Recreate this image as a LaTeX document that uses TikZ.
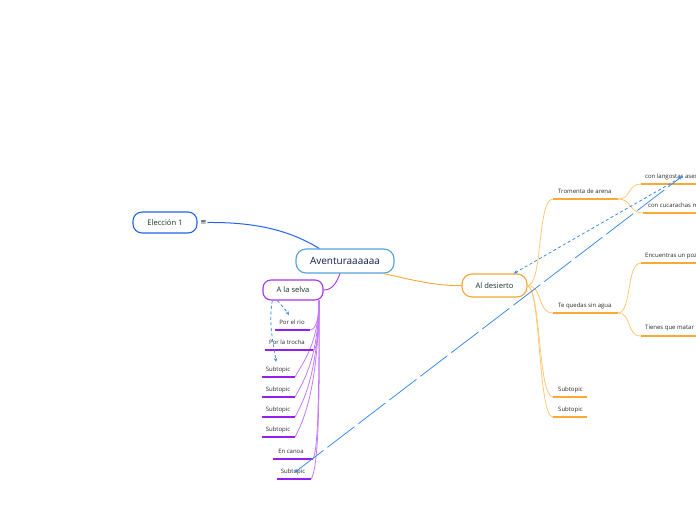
\documentclass[tikz,border=0pt]{standalone}
\usepackage{fontspec}
\setmainfont{Open Sans}
\newfontfamily\symfont{DejaVu Sans}
\usetikzlibrary{arrows.meta}
\definecolor{topictext}{RGB}{20,50,40}
\definecolor{roottext}{RGB}{15,30,70}
\definecolor{subtext}{RGB}{40,40,40}
\definecolor{rootborder}{RGB}{85,160,220}
\definecolor{eleblue}{RGB}{35,100,235}
\definecolor{purpleB}{RGB}{170,50,230}
\definecolor{purpleU}{RGB}{150,30,240}
\definecolor{purpleC}{RGB}{195,120,250}
\definecolor{orangeB}{RGB}{245,165,50}
\definecolor{orangeU}{RGB}{250,170,50}
\definecolor{orangeC}{RGB}{252,200,120}
\definecolor{relblue}{RGB}{60,140,230}
\begin{document}
\begin{tikzpicture}[x=1pt,y=-1pt,
  topic/.style={draw, line width=1.1pt, fill=white, inner sep=0pt, text=topictext,
    font=\fontsize{7.6}{9}\selectfont},
  subnode/.style={inner sep=0pt, anchor=base, text=subtext, font=\fontsize{6}{7}\selectfont},
  subleft/.style={subnode, anchor=base west},
  pline/.style={line width=1.6pt, purpleU},
  oline/.style={line width=1.6pt, orangeU},
  pconn/.style={line width=0.8pt, purpleC},
  oconn/.style={line width=0.8pt, orangeC},
  reldash/.style={line width=0.8pt, relblue, dash pattern=on 3pt off 2.5pt},
  rellong/.style={line width=0.8pt, relblue, dash pattern=on 34pt off 5pt},
  tip/.style={-{Stealth[length=4pt,width=3.5pt]}}
]
\useasboundingbox (0,0) rectangle (696,520);
\clip (0,0) rectangle (696,520);

% ---------- main nodes ----------
\node[topic, draw=rootborder, text=roottext, rounded corners=10pt, minimum width=98pt, minimum height=24pt,
  font=\fontsize{10}{12}\selectfont] (av) at (345,261) {Aventuraaaaaa};
\node[topic, draw=eleblue, rounded corners=9pt, minimum width=64pt, minimum height=21pt] (ele) at (165,222.5) {Elección 1};
\node[inner sep=0.5pt, text=topictext, font=\symfont\fontsize{7.5}{8}\selectfont] (icon) at (203.5,222.5) {≡};
\node[topic, draw=purpleB, rounded corners=8pt, minimum width=60pt, minimum height=20pt] (selva) at (293,290) {A la selva};
\node[topic, draw=orangeB, rounded corners=10pt, minimum width=65pt, minimum height=23pt] (des) at (494.5,285.5) {Al desierto};

% ---------- main connectors ----------
\draw[eleblue, line width=1pt] (icon.east) .. controls (260,222) and (292,232) .. (av.154);
\draw[purpleB, line width=0.9pt] (av.-112) .. controls (336,285) and (331,290) .. (selva.east);
\draw[orangeB, line width=0.9pt] (av.-18.4) .. controls (420,282) and (440,286) .. (des.west);

% ---------- A la selva children ----------
\coordinate (p1l) at (275,330); \coordinate (p1r) at (310,330);
\coordinate (p2l) at (265,350); \coordinate (p2r) at (313,350);
\coordinate (p3l) at (262,377); \coordinate (p3r) at (295,377);
\coordinate (p4l) at (262,397); \coordinate (p4r) at (295,397);
\coordinate (p5l) at (262,417); \coordinate (p5r) at (295,417);
\coordinate (p6l) at (262,437); \coordinate (p6r) at (295,437);
\coordinate (p7l) at (273,459); \coordinate (p7r) at (313,459);
\coordinate (p8l) at (277,479); \coordinate (p8r) at (311,479);

\draw[pconn] (selva.-22) .. controls (319,318) and (316,330) .. (p1r);
\draw[pconn] (selva.-22) .. controls (319,330) and (318,350) .. (p2r);
\draw[pconn] (selva.-22) .. controls (318,345) and (303,362) .. (p3r);
\draw[pconn] (selva.-22) .. controls (318,360) and (303,382) .. (p4r);
\draw[pconn] (selva.-22) .. controls (318,375) and (303,402) .. (p5r);
\draw[pconn] (selva.-22) .. controls (318,390) and (303,422) .. (p6r);
\draw[pconn] (selva.-22) .. controls (319,400) and (318,450) .. (p7r);
\draw[pconn] (selva.-22) .. controls (320,410) and (318,470) .. (p8r);

\foreach \i in {1,...,8} {\draw[pline] (p\i l) -- (p\i r);}

\node[subnode] (t1) at (292,324.5) {Por el rio};
\node[subnode] (t2) at (287,344.5) {Por la trocha};
\node[subnode] (t3) at (278,371.5) {Subtopic};
\node[subnode] (t4) at (278,391.5) {Subtopic};
\node[subnode] (t5) at (278,411.5) {Subtopic};
\node[subnode] (t6) at (278,431.5) {Subtopic};
\node[subnode] (t7) at (291,453.5) {En canoa};
\node[subnode] (t8) at (293,473.5) {Subtopic};

% ---------- Al desierto children ----------
\coordinate (d1l) at (553,199); \coordinate (d1r) at (618,199);
\coordinate (d2l) at (553,313); \coordinate (d2r) at (618,313);
\coordinate (d3l) at (553,397); \coordinate (d3r) at (587,397);
\coordinate (d4l) at (553,417); \coordinate (d4r) at (587,417);
\coordinate (e1l) at (641,184); \coordinate (e1r) at (700,184);
\coordinate (e2l) at (643,213); \coordinate (e2r) at (700,213);
\coordinate (e3l) at (641,263); \coordinate (e3r) at (700,263);
\coordinate (e4l) at (641,336); \coordinate (e4r) at (700,336);

\draw[oconn] (des.east) .. controls (543,285) and (537,199) .. (d1l);
\draw[oconn] (des.east) .. controls (543,286) and (537,313) .. (d2l);
\draw[oconn] (des.east) .. controls (541,290) and (538,397) .. (d3l);
\draw[oconn] (des.east) .. controls (541,290) and (538,417) .. (d4l);
\draw[oconn] (d1r) .. controls (632,199) and (627,184) .. (e1l);
\draw[oconn] (d1r) .. controls (632,199) and (629,213) .. (e2l);
\draw[oconn] (d2r) .. controls (632,313) and (626,263) .. (e3l);
\draw[oconn] (d2r) .. controls (632,313) and (626,336) .. (e4l);

\foreach \n in {d1,d2,d3,d4,e1,e2,e3,e4} {\draw[oline] (\n l) -- (\n r);}

\node[subleft] (u1) at (558,193.5) {Tromenta de arena};
\node[subleft] (u2) at (558,307.5) {Te quedas sin agua};
\node[subleft] (u3) at (558,391.5) {Subtopic};
\node[subleft] (u4) at (558,411.5) {Subtopic};
\node[subleft] (v1) at (645,178) {con langostas asesinas};
\node[subleft] (v2) at (648,207) {con cucarachas m};
\node[subleft] (v3) at (645,257.5) {Encuentras un poz};
\node[subleft] (v4) at (645,329.5) {Tienes que matar};

% ---------- relationship connectors ----------
\coordinate (rioA) at (289,315);
\coordinate (subA) at (276,362);
\coordinate (endA) at (682.5,176);
\coordinate (endB) at (680,178);
\coordinate (startL) at (294.5,472.5);
\draw[reldash, tip] (selva.-146) .. controls (282,306) and (285,309) .. (rioA);
\draw[reldash, tip] (selva.-153) .. controls (268,325) and (274,345) .. (subA);
\draw[reldash, tip] (endB) -- (des.32);
\draw[rellong, {Stealth[length=4pt,width=3.5pt]}-{Stealth[length=4pt,width=3.5pt]}] (startL) -- (endA);
\end{tikzpicture}
\end{document}
